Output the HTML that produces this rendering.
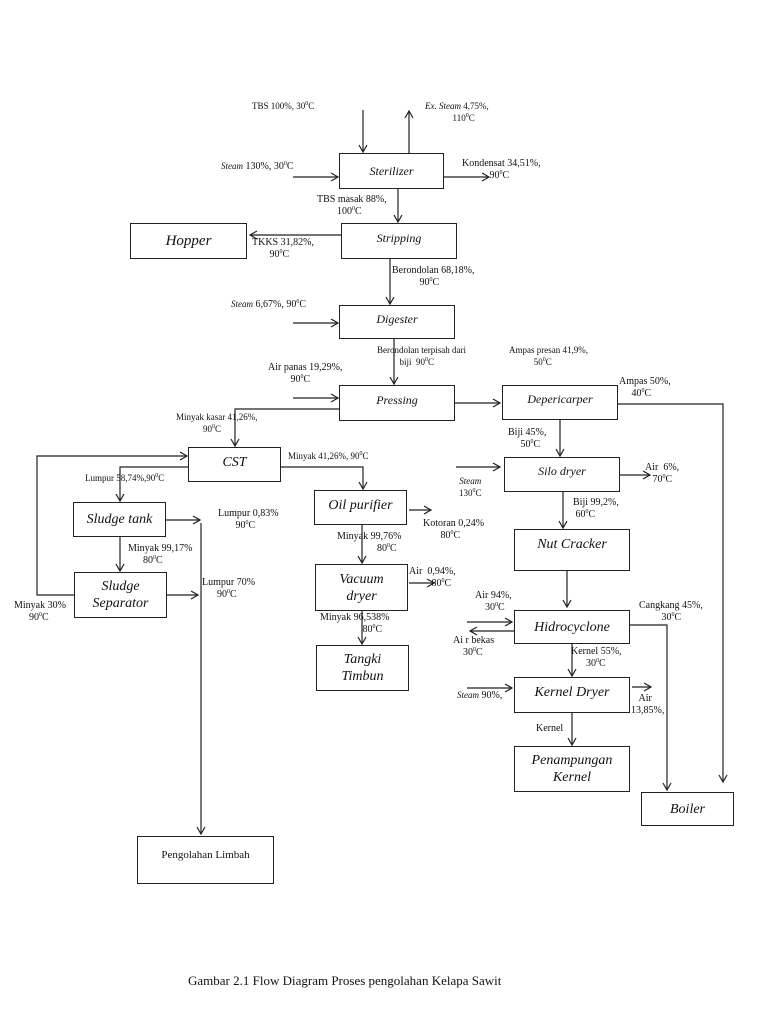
<!DOCTYPE html>
<html><head><meta charset="utf-8"><style>
body{margin:0;background:#fff;}
#c{position:relative;width:768px;height:1024px;overflow:hidden;font-family:"Liberation Serif",serif;color:#111;}
.b{position:absolute;border:1.3px solid #222;box-sizing:border-box;display:flex;align-items:center;justify-content:center;text-align:center;font-style:italic;font-size:14px;line-height:17px;background:#fff;}
.t{position:absolute;font-size:10px;line-height:12px;white-space:nowrap;}
.s{font-size:9px;}
sup{font-size:6px;vertical-align:4px;line-height:0;}
svg{position:absolute;left:0;top:0;}
</style></head><body><div id="c">
<svg width="768" height="1024" fill="none" stroke="#222" stroke-width="1.2">
<defs><marker id="a" markerWidth="10" markerHeight="10" refX="8" refY="5" orient="auto" markerUnits="userSpaceOnUse"><path d="M1,1 L8,5 L1,9" stroke="#222" stroke-width="1.2" fill="none"/></marker></defs>
<g marker-end="url(#a)">
<path d="M363,110V152"/><path d="M409,153V111"/><path d="M293,177H338"/><path d="M444,177H489"/>
<path d="M398,189V222"/><path d="M341,235H250"/><path d="M390,259V304"/><path d="M293,323H338"/>
<path d="M394,339V384"/><path d="M293,398H338"/><path d="M455,403H500"/>
<path d="M339,409H235V446"/><path d="M281,467H363V489"/><path d="M188,467H120V501"/>
<path d="M74,595H37V456H187"/><path d="M166,520H200"/><path d="M201,523V834"/>
<path d="M120,537V571"/><path d="M167,595H198"/><path d="M409,510H431"/><path d="M362,525V563"/>
<path d="M409,583H434"/><path d="M362,611V644"/><path d="M618,404H723V782"/><path d="M560,420V456"/>
<path d="M456,467H500"/><path d="M620,475H650"/><path d="M563,492V528"/><path d="M567,571V607"/>
<path d="M467,622H512"/><path d="M514,631H470"/><path d="M630,625H667V790"/><path d="M572,644V676"/>
<path d="M467,688H512"/><path d="M632,687H651"/><path d="M572,713V745"/>
</g></svg>
<div class="b" style="left:339px;top:153px;width:105px;height:36px;font-size:12px">Sterilizer</div>
<div class="b" style="left:341px;top:223px;width:116px;height:36px;font-size:12px;align-items:flex-start;padding-top:6px">Stripping</div>
<div class="b" style="left:130px;top:223px;width:117px;height:36px;font-size:15px">Hopper</div>
<div class="b" style="left:339px;top:305px;width:116px;height:34px;font-size:12px;align-items:flex-start;padding-top:5px">Digester</div>
<div class="b" style="left:339px;top:385px;width:116px;height:36px;font-size:12px;align-items:flex-start;padding-top:6px">Pressing</div>
<div class="b" style="left:188px;top:447px;width:93px;height:35px;font-size:14px;align-items:flex-start;padding-top:6px">CST</div>
<div class="b" style="left:73px;top:502px;width:93px;height:35px">Sludge tank</div>
<div class="b" style="left:74px;top:572px;width:93px;height:46px">Sludge<br>Separator</div>
<div class="b" style="left:314px;top:490px;width:93px;height:35px;align-items:flex-start;padding-top:6px">Oil purifier</div>
<div class="b" style="left:315px;top:564px;width:93px;height:47px">Vacuum<br>dryer</div>
<div class="b" style="left:316px;top:645px;width:93px;height:46px">Tangki<br>Timbun</div>
<div class="b" style="left:502px;top:385px;width:116px;height:35px;font-size:12px;align-items:flex-start;padding-top:5px">Depericarper</div>
<div class="b" style="left:504px;top:457px;width:116px;height:35px;font-size:12px;align-items:flex-start;padding-top:5px">Silo dryer</div>
<div class="b" style="left:514px;top:529px;width:116px;height:42px;align-items:flex-start;padding-top:6px">Nut Cracker</div>
<div class="b" style="left:514px;top:610px;width:116px;height:34px">Hidrocyclone</div>
<div class="b" style="left:514px;top:677px;width:116px;height:36px;align-items:flex-start;padding-top:6px">Kernel Dryer</div>
<div class="b" style="left:514px;top:746px;width:116px;height:46px">Penampungan<br>Kernel</div>
<div class="b" style="left:641px;top:792px;width:93px;height:34px">Boiler</div>
<div class="b" style="left:137px;top:836px;width:137px;height:48px;font-style:normal;font-size:11px;align-items:flex-start;padding-top:10px">Pengolahan Limbah</div>

<div class="t s" style="left:252px;top:100px">TBS 100%, 30<sup>0</sup>C</div>
<div class="t s" style="left:425px;top:100px;text-align:center"><i>Ex. Steam</i> 4,75%,<br>&nbsp;&nbsp;&nbsp;&nbsp;&nbsp;&nbsp;110<sup>0</sup>C</div>
<div class="t" style="left:221px;top:160px"><i class="s">Steam</i> 130%, 30<sup>0</sup>C</div>
<div class="t" style="left:462px;top:158px">Kondensat 34,51%,<br>&nbsp;&nbsp;&nbsp;&nbsp;&nbsp;&nbsp;&nbsp;&nbsp;&nbsp;&nbsp;&nbsp;90<sup>0</sup>C</div>
<div class="t" style="left:317px;top:194px">TBS masak 88%,<br>&nbsp;&nbsp;&nbsp;&nbsp;&nbsp;&nbsp;&nbsp;&nbsp;100<sup>0</sup>C</div>
<div class="t" style="left:252px;top:237px">TKKS 31,82%,<br>&nbsp;&nbsp;&nbsp;&nbsp;&nbsp;&nbsp;&nbsp;90<sup>0</sup>C</div>
<div class="t" style="left:392px;top:265px">Berondolan 68,18%,<br>&nbsp;&nbsp;&nbsp;&nbsp;&nbsp;&nbsp;&nbsp;&nbsp;&nbsp;&nbsp;&nbsp;90<sup>0</sup>C</div>
<div class="t" style="left:231px;top:298px"><i class="s">Steam</i> 6,67%, 90<sup>0</sup>C</div>
<div class="t s" style="left:377px;top:344px">Berondolan terpisah dari<br>&nbsp;&nbsp;&nbsp;&nbsp;&nbsp;&nbsp;&nbsp;&nbsp;&nbsp;&nbsp;biji&nbsp; 90<sup>0</sup>C</div>
<div class="t s" style="left:509px;top:344px">Ampas presan 41,9%,<br>&nbsp;&nbsp;&nbsp;&nbsp;&nbsp;&nbsp;&nbsp;&nbsp;&nbsp;&nbsp;&nbsp;50<sup>0</sup>C</div>
<div class="t" style="left:268px;top:362px">Air panas 19,29%,<br>&nbsp;&nbsp;&nbsp;&nbsp;&nbsp;&nbsp;&nbsp;&nbsp;&nbsp;90<sup>0</sup>C</div>
<div class="t" style="left:619px;top:376px">Ampas 50%,<br>&nbsp;&nbsp;&nbsp;&nbsp;&nbsp;40<sup>0</sup>C</div>
<div class="t s" style="left:176px;top:411px">Minyak kasar 41,26%,<br>&nbsp;&nbsp;&nbsp;&nbsp;&nbsp;&nbsp;&nbsp;&nbsp;&nbsp;&nbsp;&nbsp;&nbsp;90<sup>0</sup>C</div>
<div class="t s" style="left:288px;top:450px">Minyak 41,26%, 90<sup>0</sup>C</div>
<div class="t s" style="left:85px;top:472px">Lumpur 58,74%,90<sup>0</sup>C</div>
<div class="t" style="left:508px;top:427px">Biji 45%,<br>&nbsp;&nbsp;&nbsp;&nbsp;&nbsp;50<sup>0</sup>C</div>
<div class="t s" style="left:459px;top:475px;text-align:center"><i>Steam</i><br>130<sup>0</sup>C</div>
<div class="t" style="left:645px;top:462px">Air&nbsp; 6%,<br>&nbsp;&nbsp;&nbsp;70<sup>0</sup>C</div>
<div class="t" style="left:218px;top:508px">Lumpur 0,83%<br>&nbsp;&nbsp;&nbsp;&nbsp;&nbsp;&nbsp;&nbsp;90<sup>0</sup>C</div>
<div class="t" style="left:573px;top:497px">Biji 99,2%,<br>&nbsp;60<sup>0</sup>C</div>
<div class="t" style="left:423px;top:518px">Kotoran 0,24%<br>&nbsp;&nbsp;&nbsp;&nbsp;&nbsp;&nbsp;&nbsp;80<sup>0</sup>C</div>
<div class="t" style="left:337px;top:531px">Minyak 99,76%<br>&nbsp;&nbsp;&nbsp;&nbsp;&nbsp;&nbsp;&nbsp;&nbsp;&nbsp;&nbsp;&nbsp;&nbsp;&nbsp;&nbsp;&nbsp;&nbsp;80<sup>0</sup>C</div>
<div class="t" style="left:128px;top:543px">Minyak 99,17%<br>&nbsp;&nbsp;&nbsp;&nbsp;&nbsp;&nbsp;80<sup>0</sup>C</div>
<div class="t" style="left:409px;top:566px">Air&nbsp; 0,94%,<br>&nbsp;&nbsp;&nbsp;&nbsp;&nbsp;&nbsp;&nbsp;&nbsp;&nbsp;80<sup>0</sup>C</div>
<div class="t" style="left:202px;top:577px">Lumpur 70%<br>&nbsp;&nbsp;&nbsp;&nbsp;&nbsp;&nbsp;90<sup>0</sup>C</div>
<div class="t" style="left:14px;top:600px">Minyak 30%<br>&nbsp;&nbsp;&nbsp;&nbsp;&nbsp;&nbsp;90<sup>0</sup>C</div>
<div class="t" style="left:320px;top:612px">Minyak 96,538%<br>&nbsp;&nbsp;&nbsp;&nbsp;&nbsp;&nbsp;&nbsp;&nbsp;&nbsp;&nbsp;&nbsp;&nbsp;&nbsp;&nbsp;&nbsp;&nbsp;&nbsp;80<sup>0</sup>C</div>
<div class="t" style="left:475px;top:590px">Air 94%,<br>&nbsp;&nbsp;&nbsp;&nbsp;30<sup>0</sup>C</div>
<div class="t" style="left:639px;top:600px">Cangkang 45%,<br>&nbsp;&nbsp;&nbsp;&nbsp;&nbsp;&nbsp;&nbsp;&nbsp;&nbsp;30<sup>0</sup>C</div>
<div class="t" style="left:453px;top:635px">Ai r bekas<br>&nbsp;&nbsp;&nbsp;&nbsp;30<sup>0</sup>C</div>
<div class="t" style="left:571px;top:646px">Kernel 55%,<br>&nbsp;&nbsp;&nbsp;&nbsp;&nbsp;&nbsp;30<sup>0</sup>C</div>
<div class="t" style="left:457px;top:689px"><i class="s">Steam</i> 90%,</div>
<div class="t" style="left:631px;top:693px">&nbsp;&nbsp;&nbsp;Air<br>13,85%,</div>
<div class="t" style="left:536px;top:723px">Kernel</div>
<div class="t" style="left:188px;top:973px;font-size:13px;line-height:15px">Gambar 2.1 Flow Diagram Proses pengolahan Kelapa Sawit</div>
</div></body></html>
